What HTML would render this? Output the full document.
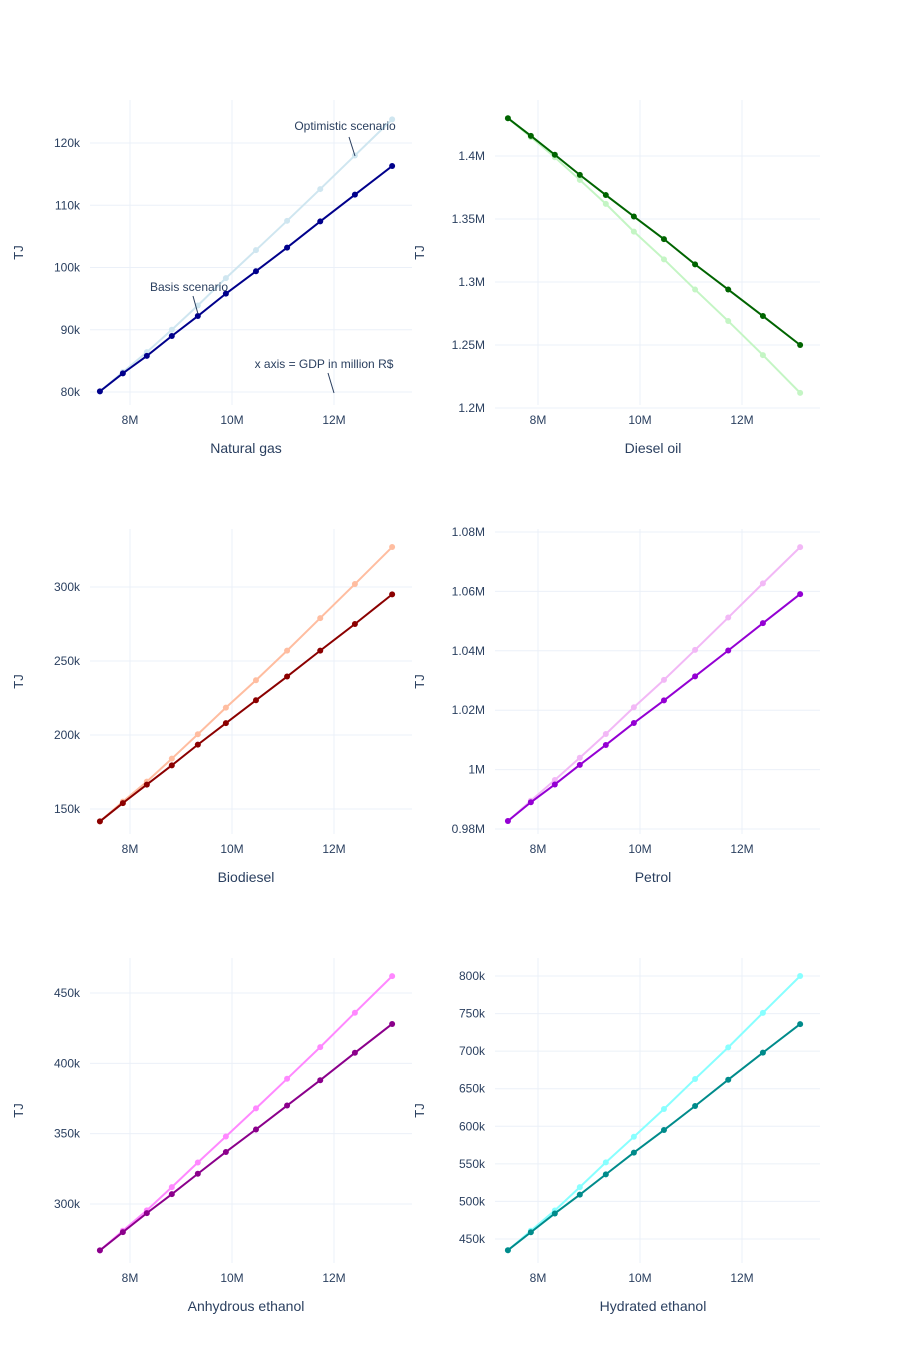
<!DOCTYPE html>
<html><head><meta charset="utf-8">
<style>
body{margin:0;background:#fff;}
svg{display:block;font-family:"Liberation Sans",Arial,sans-serif;}
</style></head>
<body>
<svg id="chart" width="900" height="1350" viewBox="0 0 900 1350" xmlns="http://www.w3.org/2000/svg"></svg>
<script>
const gdp = [7.41, 7.86, 8.33, 8.82, 9.33, 9.88, 10.47, 11.08, 11.73, 12.41, 13.14];
const xTickVals = [8, 10, 12];
const xTickLabels = ["8M", "10M", "12M"];
const panelTitles = ["Natural gas", "Diesel oil", "Biodiesel", "Petrol", "Anhydrous ethanol", "Hydrated ethanol"];
const ngBasis = [80.1, 83, 85.8, 89, 92.2, 95.8, 99.4, 103.2, 107.4, 111.7, 116.3];
const ngOpt = [80.1, 83.2, 86.4, 90, 93.9, 98.3, 102.8, 107.5, 112.6, 118, 123.8];
const dieselBasis = [1.43, 1.416, 1.401, 1.385, 1.369, 1.352, 1.334, 1.314, 1.294, 1.273, 1.250];
const dieselOpt = [1.43, 1.415, 1.399, 1.381, 1.362, 1.340, 1.318, 1.294, 1.269, 1.242, 1.212];
const biodBasis = [141.6, 154, 166.5, 179.5, 193.5, 208, 223.5, 239.5, 257, 275, 295];
const biodOpt = [141.6, 155, 168.5, 184, 200.5, 218.5, 237, 257, 279, 302, 327];
const petrolBasis = [0.9827, 0.989, 0.995, 1.0016, 1.0083, 1.0157, 1.0233, 1.0314, 1.0401, 1.0493, 1.0591];
const petrolOpt = [0.9827, 0.9895, 0.9965, 1.004, 1.012, 1.021, 1.0302, 1.0403, 1.0512, 1.0627, 1.0749];
const anhBasis = [267, 280, 293.5, 307, 321.5, 337, 353, 370, 388, 407.5, 428];
const anhOpt = [267, 281, 295.5, 312, 329.5, 348, 368, 389, 411.5, 436, 462];
const hydBasis = [435, 459, 484, 509, 536, 565, 595, 627, 662, 698, 736];
const hydOpt = [435, 461, 488, 519, 552, 586, 623, 663, 705, 751, 800];
const ngTicks = [80, 90, 100, 110, 120];
const ngTickLabels = ["80k", "90k", "100k", "110k", "120k"];
const dieselTicks = [1.2, 1.25, 1.3, 1.35, 1.4];
const dieselTickLabels = ["1.2M", "1.25M", "1.3M", "1.35M", "1.4M"];
const biodTicks = [150, 200, 250, 300];
const biodTickLabels = ["150k", "200k", "250k", "300k"];
const petrolTicks = [0.98, 1.0, 1.02, 1.04, 1.06, 1.08];
const petrolTickLabels = ["0.98M", "1M", "1.02M", "1.04M", "1.06M", "1.08M"];
const anhTicks = [300, 350, 400, 450];
const anhTickLabels = ["300k", "350k", "400k", "450k"];
const hydTicks = [450, 500, 550, 600, 650, 700, 750, 800];
const hydTickLabels = ["450k", "500k", "550k", "600k", "650k", "700k", "750k", "800k"];

const NS = "http://www.w3.org/2000/svg";
const svg = document.getElementById("chart");
function mk(tag, attrs, parent){const e=document.createElementNS(NS,tag);for(const k in attrs)e.setAttribute(k,attrs[k]);(parent||svg).appendChild(e);return e;}

const panels = [
 {L:90,R:412,T:100,B:405,col:0,basis:ngBasis,opt:ngOpt,ticks:ngTicks,labels:ngTickLabels,v0:80,p0:392,v1:120,p1:143,cb:"#00008b",co:"#cfe6f0",name:"natural-gas"},
 {L:495,R:820,T:100,B:405,col:1,basis:dieselBasis,opt:dieselOpt,ticks:dieselTicks,labels:dieselTickLabels,v0:1.2,p0:408,v1:1.4,p1:156,cb:"#006400",co:"#c4f5c4",name:"diesel-oil"},
 {L:90,R:412,T:529,B:834,col:0,basis:biodBasis,opt:biodOpt,ticks:biodTicks,labels:biodTickLabels,v0:150,p0:809,v1:300,p1:587,cb:"#8b0000",co:"#ffbda0",name:"biodiesel"},
 {L:495,R:820,T:529,B:834,col:1,basis:petrolBasis,opt:petrolOpt,ticks:petrolTicks,labels:petrolTickLabels,v0:0.98,p0:829,v1:1.08,p1:532,cb:"#9400d3",co:"#f2b8f6",name:"petrol"},
 {L:90,R:412,T:958,B:1263,col:0,basis:anhBasis,opt:anhOpt,ticks:anhTicks,labels:anhTickLabels,v0:300,p0:1204,v1:450,p1:993,cb:"#8b008b",co:"#ff88ff",name:"anhydrous-ethanol"},
 {L:495,R:820,T:958,B:1263,col:1,basis:hydBasis,opt:hydOpt,ticks:hydTicks,labels:hydTickLabels,v0:450,p0:1239,v1:800,p1:976,cb:"#008b8b",co:"#88ffff",name:"hydrated-ethanol"}
];

panels.forEach((p,i)=>{
  const g = mk("g",{});
  
  
  const xOff = p.col===0?0:408;
  const xPx = v => 130 + xOff + (v-8)*51;
  const yPx = v => p.p0 + (v-p.v0)*(p.p1-p.p0)/(p.v1-p.v0);
  xTickVals.forEach((v,k)=>{
    const x=xPx(v);
    const gl=mk("line",{x1:x,x2:x,y1:p.T,y2:p.B,stroke:"#ebf0f8","stroke-width":1},g);
    
    
    const t=mk("text",{x:x,y:p.B+19,"font-size":12,fill:"#2a3f5f","text-anchor":"middle"},g);
    t.textContent=xTickLabels[k];
    
    
  });
  p.ticks.forEach((v,k)=>{
    const y=yPx(v);
    const gl=mk("line",{x1:p.L,x2:p.R,y1:y,y2:y,stroke:"#ebf0f8","stroke-width":1},g);
    
    
    const t=mk("text",{x:p.L-10,y:y+4,"font-size":12,fill:"#2a3f5f","text-anchor":"end"},g);
    t.textContent=p.labels[k];
    
    
  });
  const yt=mk("text",{x:0,y:0,"font-size":13,fill:"#2a3f5f","text-anchor":"middle",transform:`translate(${p.col===0?23:424},${(p.T+p.B)/2}) rotate(-90)`},g);
  yt.textContent="TJ";
  
  
  const xt=mk("text",{x:p.col===0?246:653,y:p.B+48,"font-size":14,fill:"#2a3f5f","text-anchor":"middle"},g);
  xt.textContent=panelTitles[i];
  
  
  [[p.opt,p.co,"optimistic"],[p.basis,p.cb,"basis"]].forEach(([vals,col,nm])=>{
    const pts=vals.map((v,k)=>xPx(gdp[k])+","+yPx(v)).join(" ");
    const ln=mk("polyline",{points:pts,fill:"none",stroke:col,"stroke-width":2},g);
    
    
    vals.forEach((v,k)=>{
      const c=mk("circle",{cx:xPx(gdp[k]),cy:yPx(v),r:3,fill:col},g);
      
      
    });
  });
});

function ann(text,tx,ty,x1,y1,x2,y2,name){
  const t=mk("text",{x:tx,y:ty,"font-size":12,fill:"#2a3f5f","text-anchor":"middle"});
  t.textContent=text;
  
  
  const l=mk("line",{x1:x1,y1:y1,x2:x2,y2:y2,stroke:"#2a3f5f","stroke-width":1});
  
  
}
ann("Optimistic scenario",345,130,349,137,355,156,"optimistic-annotation");
ann("Basis scenario",189,291,193,296,198,314,"basis-annotation");
ann("x axis = GDP in million R$",324,368,328,373,334,393,"x-axis-note");
</script>
</body></html>
